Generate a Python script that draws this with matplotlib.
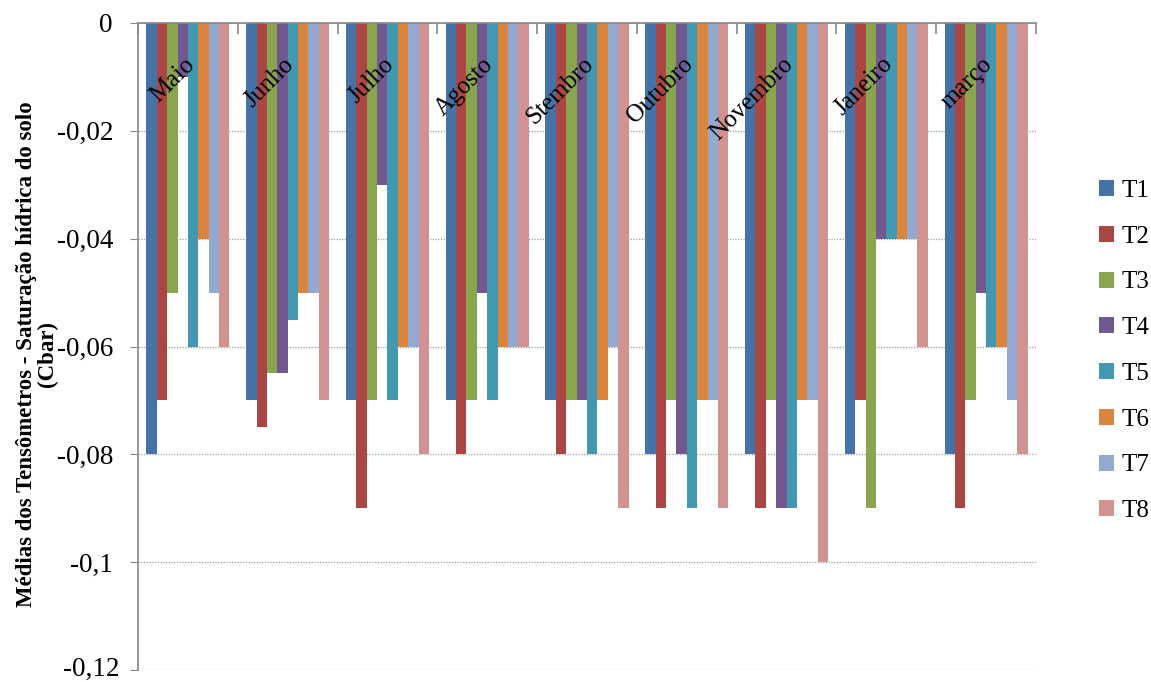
import matplotlib
matplotlib.use("Agg")
import matplotlib.pyplot as plt
import matplotlib.transforms as mtransforms
import numpy as np

months = ["Maio", "Junho", "Julho", "Agosto", "Stembro", "Outubro", "Novembro", "Janeiro", "março"]
series_names = ["T1", "T2", "T3", "T4", "T5", "T6", "T7", "T8"]
T1 = [-0.08, -0.07, -0.07, -0.07, -0.07, -0.08, -0.08, -0.08, -0.08]
T2 = [-0.07, -0.075, -0.09, -0.08, -0.08, -0.09, -0.09, -0.07, -0.09]
T3 = [-0.05, -0.065, -0.07, -0.07, -0.07, -0.07, -0.07, -0.09, -0.07]
T4 = [-0.01, -0.065, -0.03, -0.05, -0.07, -0.08, -0.09, -0.04, -0.05]
T5 = [-0.06, -0.055, -0.07, -0.07, -0.08, -0.09, -0.09, -0.04, -0.06]
T6 = [-0.04, -0.05, -0.06, -0.06, -0.07, -0.07, -0.07, -0.04, -0.06]
T7 = [-0.05, -0.05, -0.06, -0.06, -0.06, -0.07, -0.07, -0.04, -0.07]
T8 = [-0.06, -0.07, -0.08, -0.06, -0.09, -0.09, -0.10, -0.06, -0.08]
y_ticks = [0, -0.02, -0.04, -0.06, -0.08, -0.10, -0.12]
y_tick_labels = ["0", "-0,02", "-0,04", "-0,06", "-0,08", "-0,1", "-0,12"]
y_label = "Médias dos Tensômetros - Saturação hídrica do solo\n(Cbar)"

colors = ["#4572A7", "#AA4643", "#89A54E", "#71588F", "#4198AF", "#DB843D", "#93A9CF", "#D19392"]
series = [T1, T2, T3, T4, T5, T6, T7, T8]

plt.rcParams['font.family'] = ['Liberation Serif', 'DejaVu Serif']

W, H = 1151, 682
fig = plt.figure(figsize=(W / 100, H / 100), dpi=100)
left, right, top, bottom = 138, 1036, 23, 670
ax = fig.add_axes([left / W, 1 - bottom / H, (right - left) / W, (bottom - top) / H])

n = len(months)
x = np.arange(n)
bw = 0.104
for i, (name, vals) in enumerate(zip(series_names, series)):
    offs = (i - 3.5) * bw
    ax.bar(x + offs, vals, width=bw, color=colors[i], label=name, zorder=3, linewidth=0)

ax.set_xlim(-0.5, n - 0.5)
ax.set_ylim(-0.12, 0)
ax.set_yticks(y_ticks)
# bottom label is drawn separately (nudged up so it stays inside the image)
ax.set_yticklabels(y_tick_labels[:-1] + [""], fontsize=19.5)
ax.yaxis.grid(True, linestyle=(0, (1, 1.2)), color="#A0A0A0", linewidth=0.9, zorder=0)

ytrans = mtransforms.blended_transform_factory(ax.transAxes, ax.transData)
nudge = mtransforms.ScaledTranslation(-18 / 100, 4 / 100, fig.dpi_scale_trans)
ax.text(0, y_ticks[-1], y_tick_labels[-1], transform=ytrans + nudge, ha='right',
        va='center_baseline', fontsize=19.5, clip_on=False)

for s in ["right", "bottom"]:
    ax.spines[s].set_visible(False)
for s in ["left", "top"]:
    ax.spines[s].set_color("#868686")
    ax.spines[s].set_linewidth(1.2)
    ax.spines[s].set_zorder(4)
ax.tick_params(axis='y', direction='out', length=6, color="#868686", pad=12)

# category axis at top (zero line) with boundary ticks pointing into the plot
ax.xaxis.set_ticks_position('top')
ax.set_xticks(np.arange(-0.5, n, 1.0))
ax.set_xticklabels([])
ax.tick_params(axis='x', direction='in', length=8, color="#868686", width=1.2)

trans = mtransforms.blended_transform_factory(ax.transData, ax.transAxes)
offset = mtransforms.ScaledTranslation(3 / 100, 0, fig.dpi_scale_trans)
for i, m in enumerate(months):
    ax.text(i, 1 - 38 / (bottom - top), m, transform=trans + offset, rotation=45,
            rotation_mode='anchor', ha='right', va='center', fontsize=18, zorder=6)

fig.text(37 / W, 1 - 354 / H, y_label, rotation=90, ha='center', va='center',
         fontsize=16.5, fontweight='bold', linespacing=1.05)

leg = ax.legend(loc='center left', bbox_to_anchor=(1099 / W, 1 - 351 / H),
                bbox_transform=fig.transFigure, frameon=False, fontsize=18,
                handlelength=0.6, handleheight=0.6, handletextpad=0.3,
                labelspacing=0.95, borderaxespad=0, borderpad=0)

fig.savefig("out.png", dpi=100)
